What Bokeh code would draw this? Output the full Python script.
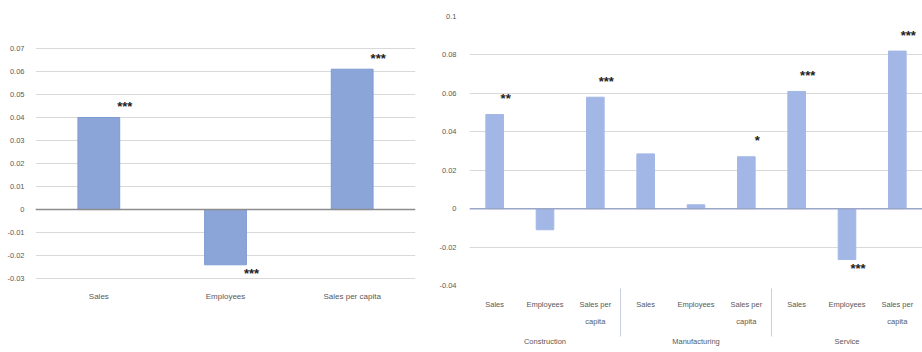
from bokeh.plotting import figure
from bokeh.models import FactorRange, Range1d, FixedTicker, Span, ColumnDataSource
from bokeh.layouts import row
from bokeh.embed import file_html
from bokeh.resources import INLINE
from bokeh.core.properties import value

# ---------------- data ----------------
left_categories = ["Sales", "Employees", "Sales per capita"]
left_values = [0.040, -0.024, 0.061]
left_stars = ["***", "***", "***"]
left_ticks = [-0.03, -0.02, -0.01, 0.0, 0.01, 0.02, 0.03, 0.04, 0.05, 0.06, 0.07]
left_tick_labels = ["-0.03", "-0.02", "-0.01", "0", "0.01", "0.02", "0.03", "0.04", "0.05", "0.06", "0.07"]

right_groups = ["Construction", "Manufacturing", "Service"]
right_measures = ["Sales", "Employees", "Sales per\ncapita"]
right_values = [0.049, -0.011, 0.058, 0.0285, 0.002, 0.027, 0.061, -0.0265, 0.082]
right_stars = ["**", "", "***", "", "", "*", "***", "***", "***"]
right_ticks = [-0.04, -0.02, 0.0, 0.02, 0.04, 0.06, 0.08, 0.1]
right_tick_labels = ["-0.04", "-0.02", "0", "0.02", "0.04", "0.06", "0.08", "0.1"]

FONT = "Liberation Sans"
LABEL_COLOR = "#595959"
GRID = "#d9d9d9"


def style(p, ticks, labels):
    p.outline_line_color = None
    p.xgrid.grid_line_color = None
    p.ygrid.grid_line_color = GRID
    p.ygrid.grid_line_width = 1
    p.yaxis.ticker = FixedTicker(ticks=ticks)
    p.yaxis.major_label_overrides = {round(t, 4): l for t, l in zip(ticks, labels)}
    for ax in (p.xaxis[0], p.yaxis[0]):
        ax.axis_line_color = None
        ax.major_tick_line_color = None
        ax.minor_tick_line_color = None
        ax.major_label_text_font = FONT
        ax.major_label_text_color = LABEL_COLOR
        ax.major_label_text_font_size = "7.5px"
    p.yaxis.major_label_standoff = 7


# Both panels share the same frame box (the row layout aligns frames);
# the left panel's value range is widened so its 0.07 .. -0.03 grid sits lower.
# ---------------- left chart ----------------
left = figure(width=436, height=352, x_range=FactorRange(*left_categories, range_padding=0),
              y_range=Range1d(-0.0330, 0.0839), output_backend="svg", toolbar_location=None,
              min_border_left=35, min_border_right=21, min_border_top=16, min_border_bottom=67)
style(left, left_ticks, left_tick_labels)
left.yaxis.major_label_standoff = 5
left.xaxis.major_label_standoff = 0
left.xaxis.major_label_text_font_size = "8px"

lsrc = ColumnDataSource(dict(
    x=left_categories, top=left_values, stars=left_stars,
    yoff=[-11 if v >= 0 else 9 for v in left_values]))
left.vbar(x="x", top="top", bottom=0, width=0.33, source=lsrc,
          fill_color="#8ca5d9", line_color="#7f9ad2", line_width=1)
left.add_layout(Span(location=0, dimension="width", line_color="#8c8c8c", line_width=1.5))
left.text(x="x", y="top", text="stars", source=lsrc, x_offset=26, y_offset="yoff",
          text_align="center", text_baseline="middle", text_font=value(FONT),
          text_font_size="13px", text_font_style="bold", text_color="#222222")

# ---------------- right chart ----------------
factors = [(g, m) for g in right_groups for m in right_measures]
xr = FactorRange(*factors, range_padding=0, group_padding=0, factor_padding=0)
right = figure(width=486, height=352, x_range=xr, y_range=Range1d(-0.04, 0.1),
               output_backend="svg", toolbar_location=None,
               min_border_left=26, min_border_right=0, min_border_top=16, min_border_bottom=67)
style(right, right_ticks, right_tick_labels)
right.xaxis.major_label_standoff = 8
right.xaxis.major_label_text_line_height = 1.9
right.xaxis.group_text_font = FONT
right.xaxis.group_text_color = LABEL_COLOR
right.xaxis.group_text_font_size = "7.5px"
right.xaxis.group_text_font_style = "normal"
right.xaxis.separator_line_color = "#c9cfe0"
right.xaxis.separator_line_width = 1

rsrc = ColumnDataSource(dict(
    x=factors, top=right_values, stars=right_stars,
    yoff=[-16 if v >= 0 else 9 for v in right_values]))
right.vbar(x="x", top="top", bottom=0, width=0.35, source=rsrc,
           fill_color="#a3b7e6", line_color="#a3b7e6", line_width=1)
right.add_layout(Span(location=0, dimension="width", line_color="#9aa6c8", line_width=1.5))
right.text(x="x", y="top", text="stars", source=rsrc, x_offset=11, y_offset="yoff",
           text_align="center", text_baseline="middle", text_font=value(FONT),
           text_font_size="13px", text_font_style="bold", text_color="#222222")

layout = row(left, right)
open("out.html", "w").write(file_html(layout, INLINE))
